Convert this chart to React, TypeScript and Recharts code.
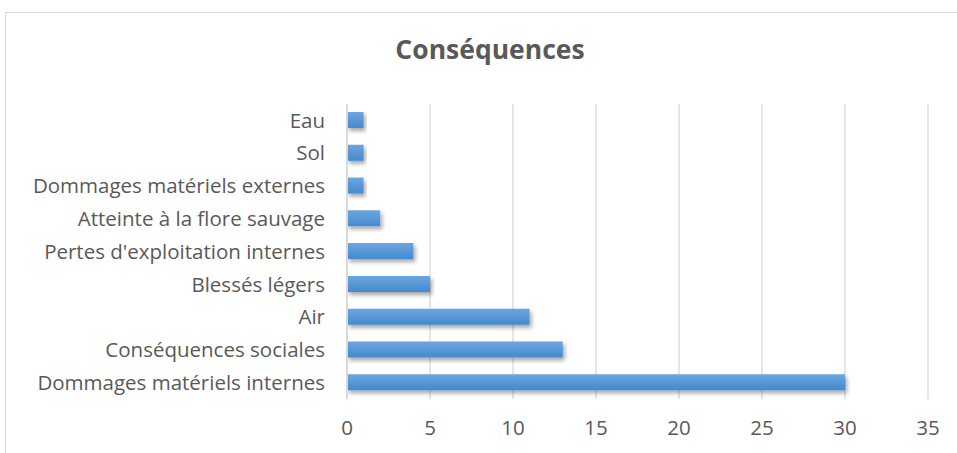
import React from 'react';
import { BarChart, Bar, XAxis, YAxis, CartesianGrid } from 'recharts';

const categories = [
  'Eau',
  'Sol',
  'Dommages matériels externes',
  'Atteinte à la flore sauvage',
  "Pertes d'exploitation internes",
  'Blessés légers',
  'Air',
  'Conséquences sociales',
  'Dommages matériels internes',
];
const counts = [1, 1, 1, 2, 4, 5, 11, 13, 30];
const xTicks = [0, 5, 10, 15, 20, 25, 30, 35];

const data = categories.map((name, i) => ({ name, value: counts[i] }));

const font = '"Open Sans", sans-serif';
const textColor = '#595959';

const App: React.FC = () => {
  return (
    <div style={{ position: 'absolute', left: 0, top: 0, width: 957, height: 453, background: '#fff', overflow: 'hidden', fontFamily: font }}>
      <div style={{ position: 'absolute', left: 5, top: 12, width: 1000, height: 500, border: '1px solid #d9d9d9' }} />
      <div style={{ position: 'absolute', left: 0, width: 980, top: 31, textAlign: 'center', fontSize: 26.5, fontWeight: 700, color: textColor }}>
        Conséquences
      </div>
      <div style={{ position: 'absolute', left: 0, top: 0 }}>
        <BarChart
          width={957}
          height={453}
          layout="vertical"
          data={data}
          barCategoryGap="50%"
          margin={{ top: 104, right: 29, bottom: 14, left: 0 }}
        >
          <defs>
            <linearGradient id="barFill" x1="0" y1="0" x2="0" y2="1">
              <stop offset="0%" stopColor="#6ca6df" />
              <stop offset="100%" stopColor="#4589cf" />
            </linearGradient>
            <filter id="barShadow" x="-10%" y="-50%" width="130%" height="220%">
              <feDropShadow dx="2" dy="3" stdDeviation="2" floodColor="#000" floodOpacity="0.35" />
            </filter>
          </defs>
          <CartesianGrid horizontal={false} stroke="#d9d9d9" strokeWidth={1.3} />
          <XAxis
            type="number"
            domain={[0, 35]}
            ticks={xTicks}
            axisLine={false}
            tickLine={false}
            tickSize={0}
            tickMargin={21}
            height={40}
            tick={{ fill: textColor, fontSize: 20.5, fontFamily: font }}
          />
          <YAxis
            type="category"
            dataKey="name"
            width={347}
            axisLine={{ stroke: '#d9d9d9', strokeWidth: 2 }}
            tickLine={false}
            tickSize={0}
            tickMargin={22}
            interval={0}
            tick={{ fill: textColor, fontSize: 20.5, fontFamily: font }}
          />
          <Bar
            dataKey="value"
            fill="url(#barFill)"
            filter="url(#barShadow)"
            barSize={16}
            isAnimationActive={false}
          />
        </BarChart>
      </div>
    </div>
  );
};

export default App;
